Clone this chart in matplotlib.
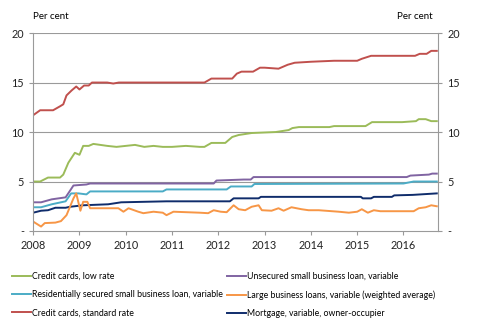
import matplotlib
matplotlib.use("Agg")
import matplotlib.pyplot as plt

plt.rcParams['font.family'] = ['Lato', 'DejaVu Sans']

# Donnees (annee decimale, taux en %)
cc_std_x = [2008.0, 2008.15, 2008.43, 2008.58, 2008.65, 2008.72, 2008.83, 2008.93, 2009.0, 2009.1,
            2009.2, 2009.27, 2009.6, 2009.73, 2009.85, 2011.7, 2011.85, 2012.3, 2012.4, 2012.5,
            2012.75, 2012.9, 2013.0, 2013.3, 2013.5, 2013.65, 2014.0, 2014.5, 2015.0, 2015.1,
            2015.3, 2016.25, 2016.35, 2016.5, 2016.6, 2016.72]
cc_std_y = [11.7, 12.2, 12.2, 12.6, 12.8, 13.7, 14.2, 14.6, 14.3, 14.7,
            14.7, 15.0, 15.0, 14.9, 15.0, 15.0, 15.4, 15.4, 15.9, 16.1,
            16.1, 16.5, 16.5, 16.4, 16.8, 17.0, 17.1, 17.2, 17.2, 17.4,
            17.7, 17.7, 17.9, 17.9, 18.2, 18.2]

cc_low_x = [2008.0, 2008.15, 2008.32, 2008.58, 2008.65, 2008.76, 2008.9, 2009.0, 2009.08, 2009.2,
            2009.3, 2009.6, 2009.8, 2010.0, 2010.2, 2010.4, 2010.6, 2010.8, 2011.0, 2011.3,
            2011.6, 2011.7, 2011.85, 2012.15, 2012.3, 2012.44, 2012.72, 2013.24, 2013.52, 2013.6,
            2013.74, 2014.4, 2014.5, 2015.18, 2015.32, 2015.97, 2016.27, 2016.33, 2016.48, 2016.6,
            2016.72]
cc_low_y = [5.0, 5.0, 5.4, 5.4, 5.7, 6.9, 7.9, 7.7, 8.6, 8.6,
            8.8, 8.6, 8.5, 8.6, 8.7, 8.5, 8.6, 8.5, 8.5, 8.6,
            8.5, 8.5, 8.9, 8.9, 9.5, 9.7, 9.9, 10.0, 10.2, 10.4,
            10.5, 10.5, 10.6, 10.6, 11.0, 11.0, 11.1, 11.3, 11.3, 11.1,
            11.1]

unsec_x = [2008.0, 2008.17, 2008.4, 2008.7, 2008.8, 2008.87, 2009.15, 2009.23, 2011.9, 2011.96,
           2012.55, 2012.7, 2012.76, 2016.07, 2016.15, 2016.55, 2016.62, 2016.72]
unsec_y = [2.9, 2.9, 3.2, 3.4, 4.1, 4.6, 4.7, 4.8, 4.8, 5.1,
           5.2, 5.2, 5.45, 5.45, 5.6, 5.7, 5.8, 5.8]

resid_x = [2008.0, 2008.17, 2008.4, 2008.7, 2008.82, 2008.98, 2009.15, 2009.23, 2010.8, 2010.88,
           2012.18, 2012.27, 2012.72, 2012.78, 2016.0, 2016.22, 2016.72]
resid_y = [2.4, 2.4, 2.7, 3.0, 3.8, 3.8, 3.7, 4.0, 4.0, 4.2,
           4.2, 4.5, 4.5, 4.75, 4.8, 5.0, 5.0]

large_x = [2008.0, 2008.17, 2008.25, 2008.48, 2008.6, 2008.72, 2008.87, 2008.93, 2009.02, 2009.08,
           2009.17, 2009.23, 2009.84, 2009.95, 2010.06, 2010.27, 2010.38, 2010.6, 2010.8, 2010.88,
           2011.03, 2011.6, 2011.78, 2011.9, 2012.05, 2012.18, 2012.33, 2012.44, 2012.58, 2012.72,
           2012.87, 2012.94, 2013.15, 2013.3, 2013.41, 2013.58, 2013.8, 2013.95, 2014.17, 2014.6,
           2014.82, 2015.0, 2015.1, 2015.23, 2015.36, 2015.5, 2016.22, 2016.33, 2016.48, 2016.6,
           2016.66, 2016.72]
large_y = [0.95, 0.45, 0.8, 0.85, 1.0, 1.6, 3.3, 3.8, 2.05, 2.95,
           2.95, 2.3, 2.3, 1.95, 2.3, 1.95, 1.8, 1.95, 1.85, 1.6,
           1.95, 1.85, 1.8, 2.1, 1.95, 1.9, 2.6, 2.2, 2.1, 2.45,
           2.6, 2.1, 2.05, 2.3, 2.05, 2.4, 2.2, 2.1, 2.1, 1.95,
           1.85, 1.95, 2.2, 1.85, 2.1, 2.0, 2.0, 2.3, 2.4, 2.6,
           2.55, 2.5]

mort_x = [2008.0, 2008.17, 2008.32, 2008.48, 2008.7, 2008.8, 2009.08, 2009.62, 2009.9, 2010.88,
          2012.25, 2012.33, 2012.87, 2012.92, 2015.08, 2015.12, 2015.3, 2015.36, 2015.75, 2015.8,
          2016.2, 2016.72]
mort_y = [1.85, 2.05, 2.1, 2.35, 2.35, 2.45, 2.6, 2.7, 2.9, 3.0,
          3.0, 3.3, 3.3, 3.45, 3.45, 3.3, 3.3, 3.45, 3.45, 3.6,
          3.65, 3.8]

fig = plt.figure(figsize=(4.81, 3.24), dpi=100)
ax = fig.add_axes([0.069, 0.287, 0.842, 0.611])

l_low, = ax.plot(cc_low_x, cc_low_y, color='#9BBB59', lw=1.4)
l_std, = ax.plot(cc_std_x, cc_std_y, color='#C0504D', lw=1.4)
l_uns, = ax.plot(unsec_x, unsec_y, color='#8064A2', lw=1.4)
l_res, = ax.plot(resid_x, resid_y, color='#4BACC6', lw=1.4)
l_mor, = ax.plot(mort_x, mort_y, color='#0F2C6B', lw=1.4)
l_lar, = ax.plot(large_x, large_y, color='#F79646', lw=1.4)

ax.set_xlim(2008, 2016.75)
ax.set_ylim(0, 20)
ax.set_xticks(range(2008, 2017))
ax.set_yticks([0, 5, 10, 15, 20])
ax.set_yticklabels(['-', '5', '10', '15', '20'])
ax.tick_params(axis='both', labelsize=7.8, colors='#222222', length=3, color='#999999', width=0.8)
ax.tick_params(axis='y', right=True, labelright=True)

# Grille horizontale
for v in [5, 10, 15, 20]:
    ax.axhline(v, color='#9A9A9A', lw=0.8, zorder=0)

ax.spines['top'].set_visible(False)
for s in ['left', 'right', 'bottom']:
    ax.spines[s].set_color('#9A9A9A')
    ax.spines[s].set_linewidth(0.8)

fig.text(0.069, 0.935, 'Per cent', fontsize=7, ha='left', va='bottom')
fig.text(0.90, 0.935, 'Per cent', fontsize=7, ha='right', va='bottom')

handles = [l_low, l_res, l_std, l_uns, l_lar, l_mor]
labels = ['Credit cards, low rate',
          'Residentially secured small business loan, variable',
          'Credit cards, standard rate',
          'Unsecured small business loan, variable',
          'Large business loans, variable (weighted average)',
          'Mortgage, variable, owner-occupier']
fig.legend(handles, labels, ncol=2, loc='upper left', bbox_to_anchor=(0.025, 0.16),
           frameon=False, fontsize=6.3, handlelength=2.2, handletextpad=0.1,
           columnspacing=0.4, labelspacing=1.05, borderaxespad=0, borderpad=0)

fig.savefig('out.png', dpi=100)
